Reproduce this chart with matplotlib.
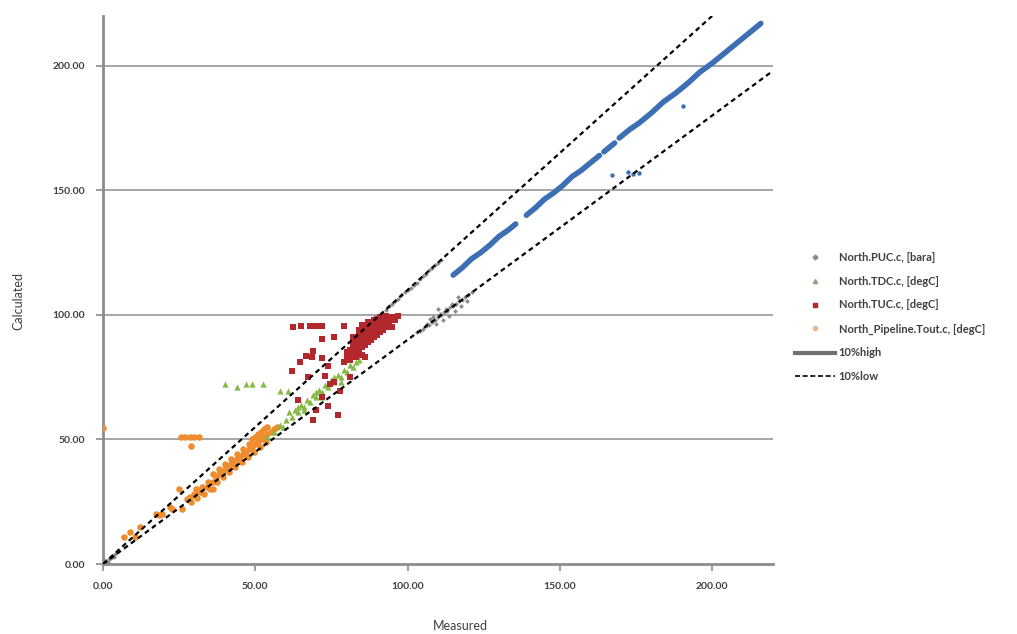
import numpy as np
import matplotlib
matplotlib.use("Agg")
import matplotlib.pyplot as plt
from matplotlib.lines import Line2D

plt.rcParams['font.family'] = ['Lato', 'DejaVu Sans']

# ---------------- data ----------------
# North.PUC.c, [bara] : dense blue band (None = gap in the band)
puc_x = [115, 118, 121, 124, 127, 130, 133, 135.5, None,
         139, 142, 145, 148, 151, 154, 157, 160, 163, None,
         164.5, 168, None,
         169.5, 173, 176, 180, 184, 188, 192, 196, 200, 204, 208, 212, 216]
puc_y = [116, 119, 122.5, 125, 128, 131.5, 134, 136.5, None,
         140, 143, 146.5, 149, 152, 155.5, 158, 161, 164, None,
         165.5, 169, None,
         171, 174.5, 177, 181, 185.5, 189, 193, 197.5, 201, 205, 209, 213, 217]
puc_out_x = [167, 172.5, 174, 176, 190.5]
puc_out_y = [156, 157.5, 156.5, 157, 184]

# North.TDC.c, [degC]
tdc_x = [54, 56, 58, 60, 61, 62, 63, 64, 65, 66, 67, 68, 69, 70, 71, 72, 73, 74,
         75, 76, 77, 78, 79, 80, 81, 82, 83, 84, 64, 70, 76, 66, 59, 72, 78,
         40, 44, 47, 49, 52.5, 58, 60.7]
tdc_y = [51, 53, 56, 58, 61, 59, 62, 61, 64, 63, 66, 65, 68, 67, 70, 69, 72, 71,
         74, 73, 76, 75, 78, 77, 80, 79, 81, 82, 63, 69, 75, 62, 55, 67, 73,
         72.3, 71, 72.3, 72.3, 72.3, 69.5, 69.5]

# North.TUC.c, [degC]
tuc_x = [79, 80, 80, 81, 81, 82, 82, 83, 83, 83, 84, 84, 85, 85, 85, 86, 86, 86,
         87, 87, 87, 88, 88, 88, 89, 89, 89, 90, 90, 90, 91, 91, 91, 92, 92, 93,
         93, 94, 94, 95, 95, 96, 97, 92, 89, 87, 84, 82, 86, 88, 85, 84,
         80, 81, 82, 83, 84, 85, 86, 87, 88, 89, 90, 91, 92, 93, 94, 95, 96,
         84, 85, 86, 83, 82, 87, 89, 90, 91, 93, 94,
         62.3, 65, 68, 70, 72, 79, 71.8, 76, 69, 66.5, 68.5, 71.8, 64.6, 86,
         62, 73.8, 67.2, 72.8, 81, 76, 64, 73.8, 68.9, 77.7, 71.8, 74.4, 77, 70]
tuc_y = [81, 83, 85, 82, 86, 84, 87, 85, 88, 83, 86, 89, 87, 90, 84, 88, 91, 93,
         89, 92, 94, 90, 93, 95, 91, 94, 96, 92, 95, 97, 93, 96, 98, 94, 97, 95,
         98, 96, 99, 95, 99, 98, 99.5, 99, 98, 96, 91, 89, 95, 97, 96, 94,
         82, 84, 86, 87, 88, 89, 90, 91, 92, 93, 94, 95, 96, 97, 97.5, 98, 99,
         93, 95, 96, 90, 91, 97, 97.5, 98.5, 99, 99.5, 98.5,
         95.2, 95.5, 95.5, 95.5, 95.5, 95.5, 90.4, 91, 85.5, 83.5, 83, 82.6, 81, 83,
         77.5, 79.5, 75, 75.5, 75, 73, 66, 63.5, 58, 69.5, 67, 72.3, 60, 62]

# North_Pipeline.Tout.c, [degC]
pipe_x = [0, 25.5, 27, 28.5, 30, 31.5, 29,
          7, 9, 10.5, 12, 17.5, 18.5, 19.5, 22, 22.5, 25, 26, 27.5, 28.5, 29, 30,
          30.5, 31, 32, 32.5, 33, 34, 34.5, 35, 36, 36, 37, 37.5, 38, 39, 39.5,
          40, 41, 41.5, 42, 43, 43.5, 44, 45, 45.5, 46, 47, 47.5, 48, 49, 49.5,
          50, 51, 51.5, 52, 53, 53.5, 54, 55, 56, 57, 50, 48, 46, 44, 42, 52, 54,
          38, 40, 36, 51, 53, 49]
pipe_y = [54.6, 51, 51, 51, 51, 51, 47.5,
          11, 13, 11, 15, 20, 19.5, 20, 23, 22, 30, 22, 26, 27, 25, 28,
          30, 26.5, 29, 31, 28, 31, 33, 30, 33, 30, 35, 33, 36, 37, 35,
          38, 39, 37, 40, 41, 39, 42, 43, 41, 44, 45, 43, 46, 47, 45,
          48, 49, 47, 50, 51, 49, 52, 53, 54, 55, 51, 48, 46, 44, 42, 53, 55,
          38, 40, 36, 52, 54, 50]

# grey points lying along the 10 % lines
grey_x = [0, 0.5, 1, 1.5, 2, 2.5, 3, 3.5, 4, 1, 0.3,
          93, 94, 95, 96, 97, 98, 99, 100, 101, 102, 103, 104, 105, 106, 107,
          108, 109, 110, 111,
          103, 104, 105, 106, 106.5, 107, 108, 108.5, 109, 109.5, 110, 110.5, 111,
          111.5, 112, 112.5, 113, 113.5, 114, 114.5, 115, 115.5, 116, 117, 117.5,
          118, 119, 119.5, 120, 121, 116.5, 110, 107.5]
grey_y = [0.2, 0.5, 1.2, 1, 2, 2.3, 3.2, 3, 4, 0.5, 1.5,
          102, 103.5, 104.5, 105.5, 106.5, 108, 109, 110, 111, 112, 113, 114.5,
          115.5, 116.5, 118, 119, 120, 121, 122,
          93, 93.5, 94.5, 95.5, 96.5, 96, 97, 99, 98, 96.5, 99, 100.5, 100,
          98, 101, 102.5, 101.5, 99.5, 103, 104.5, 103.5, 101.5, 104.5, 105.5, 103.5,
          106, 107, 105.5, 108, 109, 107, 102.5, 98.5]

# 10 % bands (end points)
high_x = [0, 200]
high_y = [0, 220]
low_x = [0, 220]
low_y = [0, 198]

ticks = [0, 50, 100, 150, 200]
tick_labels = ['0.00', '50.00', '100.00', '150.00', '200.00']

# ---------------- drawing ----------------
fig = plt.figure(figsize=(10.17, 6.34), dpi=100)
ax = fig.add_axes([0.1013, 0.1104, 0.6588, 0.8644])

c_blue = '#3c6fb4'
c_green = '#86b845'
c_red = '#b3282d'
c_orange = '#ef8c2e'
c_grey = '#8c8c8c'

for y in [50, 100, 150, 200]:
    ax.axhline(y, color='#a6a6a6', lw=1.4, zorder=0)

ax.scatter(grey_x, grey_y, s=6, marker='D', color=c_grey, lw=0, zorder=3)
ax.scatter(pipe_x, pipe_y, s=22, marker='o', color=c_orange, lw=0, zorder=3)
ax.scatter(tdc_x, tdc_y, s=20, marker='^', color=c_green, lw=0, zorder=3)
ax.scatter(tuc_x, tuc_y, s=24, marker='s', color=c_red, lw=0, zorder=4)
bx = np.array([np.nan if v is None else v for v in puc_x], dtype=float)
by = np.array([np.nan if v is None else v for v in puc_y], dtype=float)
ax.plot(bx, by, color=c_blue, lw=4.0, solid_capstyle='round', zorder=4)
ax.scatter(puc_out_x, puc_out_y, s=10, color=c_blue, lw=0, zorder=4)

ax.plot(high_x, high_y, color='black', lw=1.6, ls=(0, (2.2, 1.7)), zorder=5)
ax.plot(low_x, low_y, color='black', lw=1.6, ls=(0, (2.2, 1.7)), zorder=5)

ax.set_xlim(0, 220)
ax.set_ylim(0, 220)
ax.set_xticks(ticks)
ax.set_xticklabels(tick_labels)
ax.set_yticks(ticks)
ax.set_yticklabels(tick_labels)

for s in ['top', 'right']:
    ax.spines[s].set_visible(False)
for s in ['left', 'bottom']:
    ax.spines[s].set_color('#8c8c8c')
    ax.spines[s].set_linewidth(2)
ax.tick_params(axis='both', colors='#8c8c8c', length=5, width=1.2,
               labelsize=7.5, labelcolor='#404040', pad=8)
for lab in ax.get_xticklabels() + ax.get_yticklabels():
    lab.set_fontweight('bold')

ax.set_xlabel('Measured', fontsize=9, color='#404040')
ax.set_ylabel('Calculated', fontsize=9, color='#404040')
ax.xaxis.set_label_coords(0.534, -0.102)
ax.yaxis.set_label_coords(-0.118, 0.48)

handles = [
    Line2D([], [], ls='', marker='D', ms=2.5, color=c_grey),
    Line2D([], [], ls='', marker='^', ms=3, color='#9a9a88'),
    Line2D([], [], ls='', marker='s', ms=3.5, color=c_red),
    Line2D([], [], ls='', marker='o', ms=3, color='#e9b78a'),
    Line2D([], [], color='#707070', lw=3),
    Line2D([], [], color='black', lw=1.2, ls=(0, (3, 1.6))),
]
labels = ['North.PUC.c, [bara]', 'North.TDC.c, [degC]', 'North.TUC.c, [degC]',
          'North_Pipeline.Tout.c, [degC]', '10%high', '10%low']
leg = fig.legend(handles, labels, loc='upper left', bbox_to_anchor=(0.782, 0.603),
                 frameon=False, fontsize=8, handlelength=3.6, handletextpad=0.3,
                 labelspacing=1.16, borderpad=0, borderaxespad=0)
for t in leg.get_texts():
    t.set_color('#404040')
    t.set_fontweight('bold')

fig.savefig('out.png', dpi=100)
